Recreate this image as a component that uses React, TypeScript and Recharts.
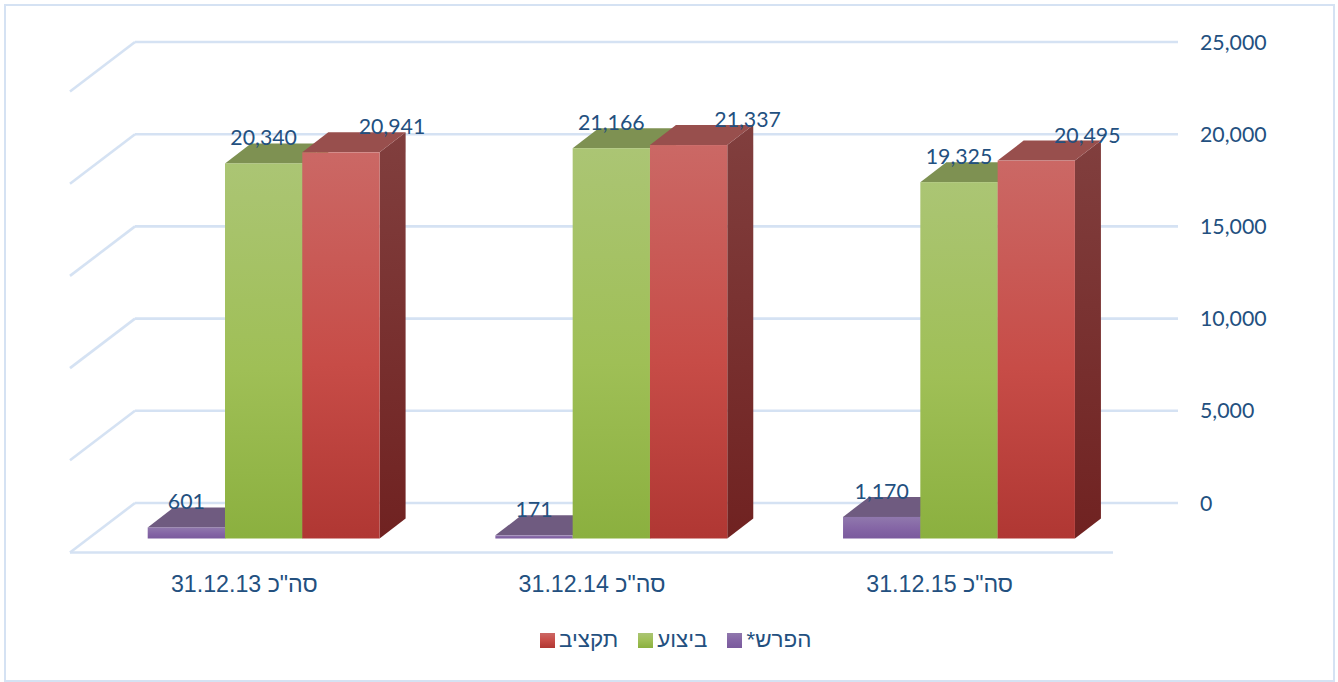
import React from "react";
import { ComposedChart, Bar, XAxis, YAxis, CartesianGrid, Legend, LabelList } from "recharts";

const categories = ['סה"כ 31.12.13', 'סה"כ 31.12.14', 'סה"כ 31.12.15'];
const diffValues = [601, 171, 1170];
const actualValues = [20340, 21166, 19325];
const budgetValues = [20941, 21337, 20495];
const yTicks = [0, 5000, 10000, 15000, 20000, 25000];

const data = categories.map((name, i) => ({
  name,
  diff: diffValues[i],
  actual: actualValues[i],
  budget: budgetValues[i],
}));

const W = 1338;
const H = 682;
const PLOT = { left: 135, right: 1178, top: 42, bottom: 503 };
const BAR_DX = -45.3;
const BAR_DY = 35.5;
const DEPTH_X = 26;
const DEPTH_Y = 20;
const GRID = "#d5e2f3";
const TEXT = "#23507f";
const VALUE_FONT = "Lato, 'Open Sans', sans-serif";
const LABEL_FONT = "'Liberation Sans', Arial, sans-serif";

const palette = {
  diff: { id: "pu", top: "#6f5b80", g: ["#9078ad", "#8465a5", "#7a5a9d"], sg: ["#6a5480", "#5a4470"] },
  actual: { id: "gr", top: "#7e9152", g: ["#abc574", "#9fbf56", "#8bb03f"], sg: ["#7a9048", "#647f2e"] },
  budget: { id: "re", top: "#984f4d", g: ["#cb6865", "#c74c47", "#b03733"], sg: ["#813f3e", "#702221"] },
};

const redLabelDx = [51, 59, 51];

function Bar3D(props: any) {
  const { x, y, width, height, colors } = props;
  const fx = x + BAR_DX;
  const fy = y + BAR_DY;
  const h = Math.max(height, 0);
  const r = fx + width;
  const b = fy + h;
  return (
    <g>
      <polygon
        points={`${r},${fy} ${r + DEPTH_X},${fy - DEPTH_Y} ${r + DEPTH_X},${b - DEPTH_Y} ${r},${b}`}
        fill={`url(#${colors.id}S)`}
      />
      <polygon
        points={`${fx},${fy} ${fx + DEPTH_X},${fy - DEPTH_Y} ${r + DEPTH_X},${fy - DEPTH_Y} ${r},${fy}`}
        fill={colors.top}
      />
      <rect x={fx} y={fy} width={width} height={h} fill={`url(#${colors.id}F)`} />
    </g>
  );
}

function GridLine(props: any) {
  const { x1, x2, y1, y2 } = props;
  const isFloor = Math.abs(y1 - PLOT.bottom) < 1;
  const dx = PLOT.left - 70;
  const dy = 49.5;
  return (
    <g fill="none" stroke={GRID} strokeWidth={2.6}>
      <line x1={x1} y1={y1} x2={x2} y2={y2} />
      <line x1={x1} y1={y1} x2={x1 - dx} y2={y1 + dy} />
      {isFloor && <line x1={x1 - dx} y1={y1 + dy} x2={x2 - dx} y2={y1 + dy} />}
    </g>
  );
}

function CategoryTick(props: any) {
  const { x, y, payload } = props;
  return (
    <text
      x={x - 64.5}
      y={y + 73}
      textAnchor="middle"
      dominantBaseline="central"
      direction="rtl"
      fontFamily={LABEL_FONT}
      fontSize={23.2}
      fill={TEXT}
    >
      {payload.value}
    </text>
  );
}

function makeLabel(extraDx: number[] | null) {
  return function ValueLabel(props: any) {
    const { x, y, width, value, index } = props;
    const cx = x + BAR_DX + width / 2 + (extraDx ? extraDx[index] : 0);
    return (
      <text
        x={cx}
        y={y + BAR_DY - 26}
        textAnchor="middle"
        dominantBaseline="central"
        fontFamily={VALUE_FONT}
        fontSize={21.3}
        fill={TEXT}
      >
        {Number(value).toLocaleString("en-US")}
      </text>
    );
  };
}

const swatches: Record<string, string[]> = {
  diff: palette.diff.g,
  actual: palette.actual.g,
  budget: palette.budget.g,
};

function LegendContent(props: any) {
  const items = [...(props.payload || [])].reverse();
  return (
    <div
      style={{
        position: "absolute",
        left: 0,
        top: 0,
        whiteSpace: "nowrap",
        display: "flex",
        alignItems: "center",
        gap: 20,
        fontFamily: LABEL_FONT,
        fontSize: 22.4,
        color: TEXT,
      }}
    >
      {items.map((it: any) => {
        const g = swatches[it.dataKey];
        return (
          <div key={it.dataKey} style={{ display: "flex", alignItems: "center", gap: 4 }}>
            <span
              style={{
                display: "inline-block",
                width: 15,
                height: 15,
                background: `linear-gradient(${g[0]}, ${g[1]}, ${g[2]})`,
              }}
            />
            <span dir="rtl">{it.value}</span>
          </div>
        );
      })}
    </div>
  );
}

function Gradients() {
  return (
    <defs>
      {Object.values(palette).map((p) => (
        <React.Fragment key={p.id}>
          <linearGradient id={`${p.id}F`} x1="0" y1="0" x2="0" y2="1">
            <stop offset="0%" stopColor={p.g[0]} />
            <stop offset="55%" stopColor={p.g[1]} />
            <stop offset="100%" stopColor={p.g[2]} />
          </linearGradient>
          <linearGradient id={`${p.id}S`} x1="0" y1="0" x2="0" y2="1">
            <stop offset="0%" stopColor={p.sg[0]} />
            <stop offset="100%" stopColor={p.sg[1]} />
          </linearGradient>
        </React.Fragment>
      ))}
    </defs>
  );
}

export default function App() {
  return (
    <div style={{ position: "absolute", left: 0, top: 0, width: W, height: H, background: "#fff" }}>
      <div
        style={{
          position: "absolute",
          left: 4,
          top: 4,
          width: 1327,
          height: 674,
          border: `2px solid ${GRID}`,
        }}
      />
      <ComposedChart
        width={W}
        height={H}
        data={data}
        barGap={0}
        barSize={77.3}
        margin={{ top: PLOT.top, left: PLOT.left, right: 0, bottom: 0 }}
        style={{ position: "absolute", left: 0, top: 0 }}
      >
        {Gradients()}
        <CartesianGrid vertical={false} horizontal={(p: any) => <GridLine key={p.key ?? p.y1} {...p} />} />
        <XAxis
          dataKey="name"
          height={H - PLOT.bottom}
          axisLine={false}
          tickLine={false}
          tick={<CategoryTick />}
          interval={0}
        />
        <YAxis
          orientation="right"
          width={W - PLOT.right}
          domain={[0, 25000]}
          ticks={yTicks}
          axisLine={false}
          tickLine={false}
          tickSize={0}
          tickMargin={22}
          tickFormatter={(v: number) => v.toLocaleString("en-US")}
          tick={{ fill: TEXT, fontSize: 21.3, fontFamily: VALUE_FONT }}
        />
        <Legend
          content={<LegendContent />}
          itemSorter={null}
          wrapperStyle={{ position: "absolute", left: 540, top: 627, width: 0, height: 0, bottom: "auto" }}
        />
        <Bar dataKey="diff" name="הפרש*" isAnimationActive={false} shape={<Bar3D colors={palette.diff} />}>
          <LabelList dataKey="diff" content={makeLabel(null)} />
        </Bar>
        <Bar dataKey="actual" name="ביצוע" isAnimationActive={false} shape={<Bar3D colors={palette.actual} />}>
          <LabelList dataKey="actual" content={makeLabel(null)} />
        </Bar>
        <Bar dataKey="budget" name="תקציב" isAnimationActive={false} shape={<Bar3D colors={palette.budget} />}>
          <LabelList dataKey="budget" content={makeLabel(redLabelDx)} />
        </Bar>
      </ComposedChart>
    </div>
  );
}
